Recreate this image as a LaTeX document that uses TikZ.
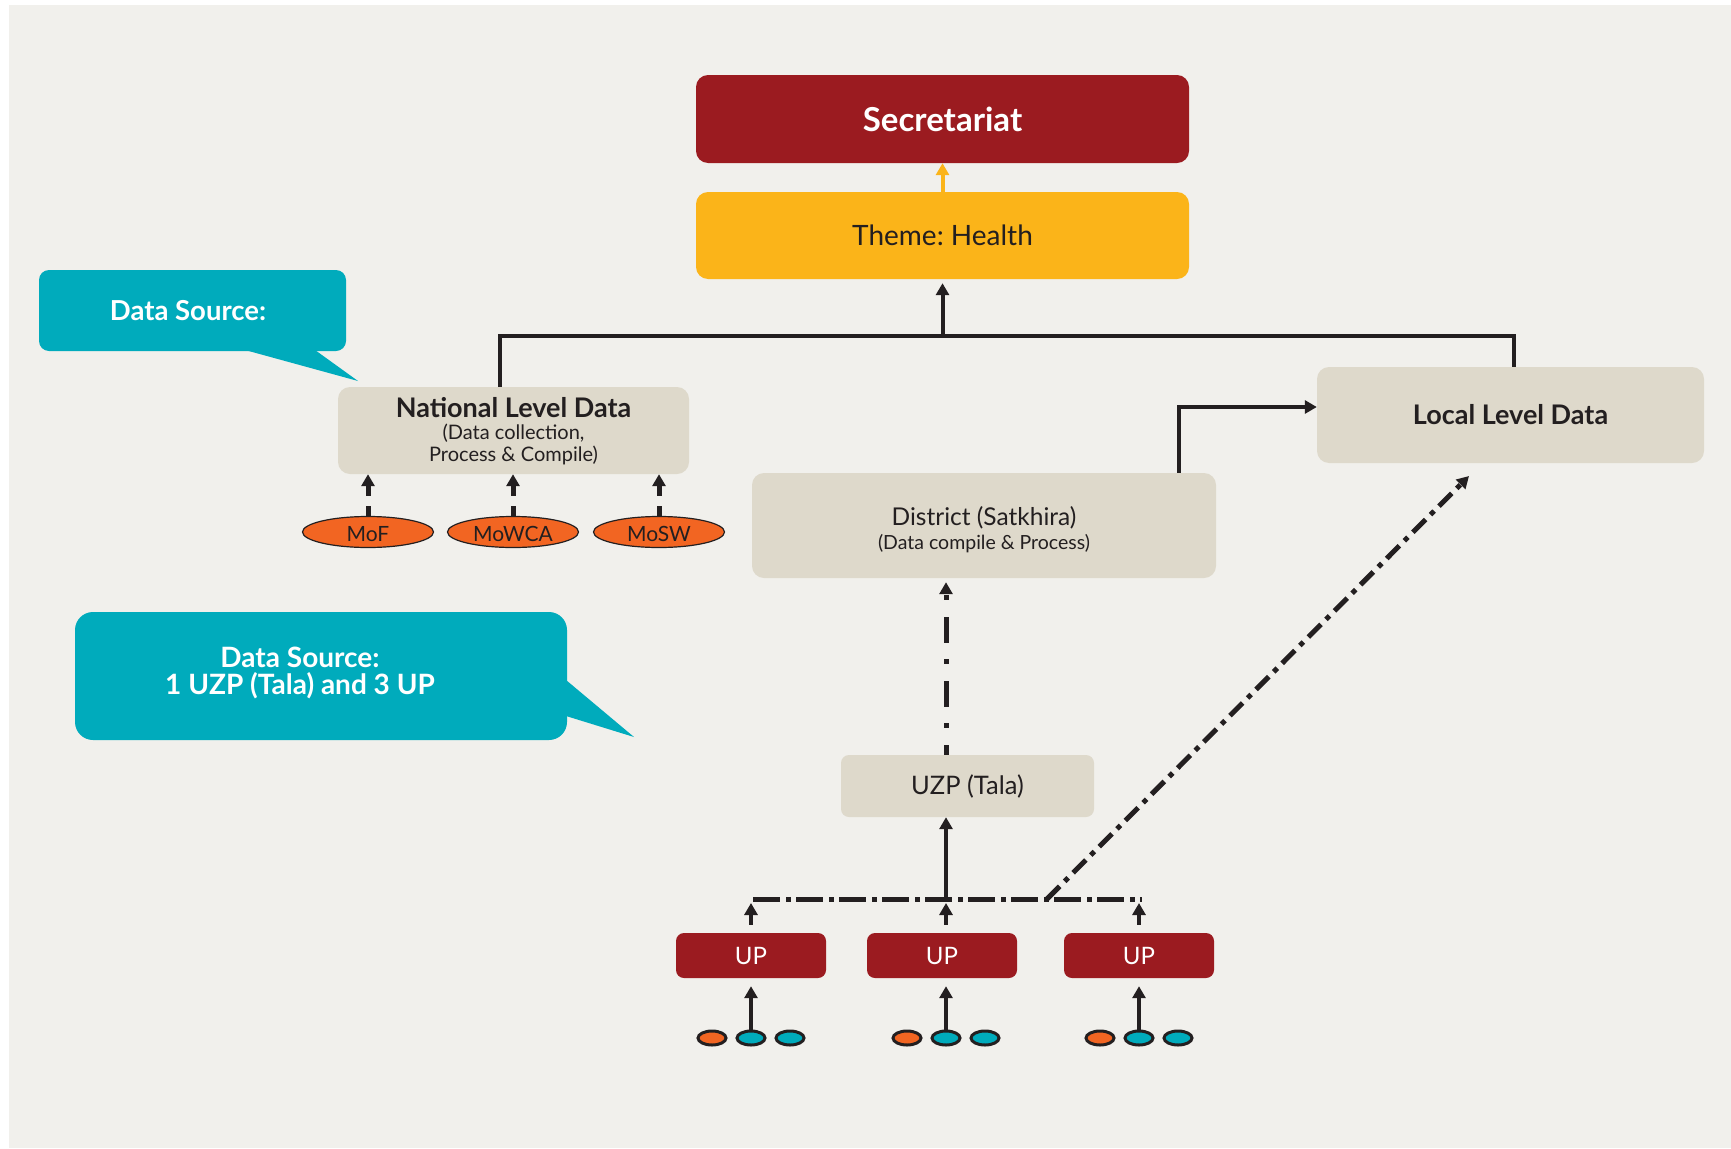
\documentclass[tikz,border=0pt]{standalone}
\usepackage{fontspec}
\setmainfont{Lato}
\frenchspacing
\usetikzlibrary{arrows.meta,shapes.geometric,calc}
\definecolor{bgc}{HTML}{F1F0EC}
\definecolor{secred}{HTML}{9B1B20}
\definecolor{themey}{HTML}{FBB419}
\definecolor{beigec}{HTML}{DED9CB}
\definecolor{callc}{HTML}{00ABBC}
\definecolor{orng}{HTML}{F26522}
\definecolor{ink}{HTML}{231F20}
\begin{document}
\frenchspacing
\begin{tikzpicture}[x=1pt,y=-1pt,
  box/.style={rectangle, rounded corners=12pt, inner sep=0pt, align=center, text=ink},
  tip/.style={-{Triangle[width=13pt,length=12pt]}},
  arr/.style={draw=ink, line width=4pt, tip},
  plainline/.style={draw=ink, line width=4pt},
  darr/.style={draw=ink, line width=5pt, dash pattern=on 10pt off 10pt, tip},
  ddv/.style={draw=ink, line width=5pt, dash pattern=on 26pt off 17pt on 5pt off 16pt, dash phase=16pt, tip},
  busline/.style={draw=ink, line width=5pt, dash pattern=on 27pt off 6pt on 5pt off 5pt},
  diagline/.style={draw=ink, line width=5pt, dash pattern=on 18pt off 7pt on 5pt off 7pt, tip},
  ell/.style={ellipse, draw=ink, line width=1.2pt, fill=orng, minimum width=131pt, minimum height=31pt, inner sep=0pt, text=ink, font=\fontsize{21}{22}\selectfont},
  sdot/.style={ellipse, draw=ink, line width=3pt, minimum width=28pt, minimum height=14pt, inner sep=0pt},
  upbox/.style={rectangle, rounded corners=8pt, fill=secred, minimum width=150pt, minimum height=45pt, inner sep=0pt, text=white, font=\fontsize{24}{26}\selectfont}
]
\useasboundingbox (0,0) rectangle (1731,1148);
\fill[white] (0,0) rectangle (1731,1148);
\fill[bgc] (9,5) rectangle (1731,1148);

% callouts
\fill[callc, rounded corners=10pt] (39,270) rectangle (346,351);
\fill[callc] (245,350) -- (315,350) -- (358,381) -- cycle;
\node[text=white, font=\fontsize{27.5}{30}\selectfont\bfseries] (cs1) at (188,311) {Data Source:};
\fill[callc, rounded corners=18pt] (75,612) rectangle (567,740);
\fill[callc] (566,680) -- (566,716) -- (634,737) -- cycle;
\node[text=white, align=center, font=\fontsize{28}{27.5}\selectfont\bfseries] (cs2) at (300,673) {Data Source:\\1 UZP (Tala) and 3 UP};

% main boxes
\node[box, fill=secred, minimum width=493pt, minimum height=88pt, text=white, font=\fontsize{33}{36}\selectfont\bfseries] (sec) at (942.5,119) {Secretariat};
\node[box, fill=themey, minimum width=493pt, minimum height=87pt, font=\fontsize{28}{32}\selectfont] (theme) at (942.5,235.5) {Theme: Health};
\node[box, fill=beigec, minimum width=351pt, minimum height=87pt] (nat) at (513.5,430.5) {};
\node[align=center, text=ink, inner sep=0pt, font=\fontsize{20}{22}\selectfont] (nattext) at (513.5,431) {{\fontsize{27}{26}\selectfont\bfseries National Level Data}\\(Data collection,\\Process \& Compile)};
\node[box, fill=beigec, minimum width=387pt, minimum height=96pt, font=\fontsize{27}{30}\selectfont\bfseries] (local) at (1510.5,415) {Local Level Data};
\node[box, fill=beigec, minimum width=464pt, minimum height=105pt] (district) at (984,525.5) {};
\node[align=center, text=ink, inner sep=0pt, font=\fontsize{19.5}{24}\selectfont] (disttext) at (984,530) {{\fontsize{24.5}{24}\selectfont District (Satkhira)}\\(Data compile \& Process)};
\node[box, rounded corners=8pt, fill=beigec, minimum width=253pt, minimum height=62pt, font=\fontsize{25.5}{28}\selectfont] (uzp) at (967.5,786) {UZP (Tala)};

% ministries
\node[ell] (mof) at (368,532) {\smash{\raisebox{-9.5pt}{MoF}}};
\node[ell] (mowca) at (513,532) {\smash{\raisebox{-9.5pt}{MoWCA}}};
\node[ell] (mosw) at (659,532) {\smash{\raisebox{-9.5pt}{MoSW}}};

% UP boxes
\node[upbox] (up1) at (751,955.5) {UP};
\node[upbox] (up2) at (942,955.5) {UP};
\node[upbox] (up3) at (1139,955.5) {UP};

% small sources
\node[sdot, fill=orng] (o1) at (712,1038) {};
\node[sdot, fill=callc] (t1) at (751,1038) {};
\node[sdot, fill=callc] (u1) at (790,1038) {};
\node[sdot, fill=orng] (o2) at (907,1038) {};
\node[sdot, fill=callc] (t2) at (946,1038) {};
\node[sdot, fill=callc] (u2) at (985,1038) {};
\node[sdot, fill=orng] (o3) at (1100,1038) {};
\node[sdot, fill=callc] (t3) at (1139,1038) {};
\node[sdot, fill=callc] (u3) at (1178,1038) {};

% coordinates
\coordinate (hubL) at (500,336);
\coordinate (hubM) at (942.5,336);
\coordinate (hubR) at (1514,336);
\coordinate (dturn) at (1179,407);
\coordinate (busL) at (753,899);
\coordinate (busU) at (946,899);
\coordinate (busD) at (1047,899);
\coordinate (busR) at (1142,899);
\coordinate (diagtip) at (1469,476);

% connectors top
\draw[draw=themey, line width=4pt, -{Triangle[width=13pt,length=12pt]}] (theme.north) -- (sec.south);
\draw[plainline] (hubL |- nat.north) -- (hubL) -- (hubR) -- (hubR |- local.north);
\draw[arr, shorten >=4pt] (hubM) -- (theme.south);
\draw[arr] (dturn |- district.north) -- (dturn) -- (local.west |- dturn);

% ministries to national
\draw[darr] (mof.north) -- (mof.north |- nat.south);
\draw[darr] (mowca.north) -- (mowca.north |- nat.south);
\draw[darr] (mosw.north) -- (mosw.north |- nat.south);

% local chain
\draw[busline] (busL) -- (busR);
\draw[arr] (busU) -- (busU |- uzp.south);
\draw[ddv, shorten >=4pt] (busU |- uzp.north) -- (busU |- district.south);
\draw[diagline] (busD) -- (diagtip);

\draw[arr, shorten <=8pt, shorten >=4pt] (t1 |- up1.north) -- (t1 |- busL);
\draw[arr, shorten <=8pt, shorten >=4pt] (t2 |- up2.north) -- (t2 |- busL);
\draw[arr, shorten <=8pt, shorten >=4pt] (t3 |- up3.north) -- (t3 |- busL);

\draw[arr, shorten >=8pt] (t1.north) -- (t1 |- up1.south);
\draw[arr, shorten >=8pt] (t2.north) -- (t2 |- up2.south);
\draw[arr, shorten >=8pt] (t3.north) -- (t3 |- up3.south);
\end{tikzpicture}
\end{document}
